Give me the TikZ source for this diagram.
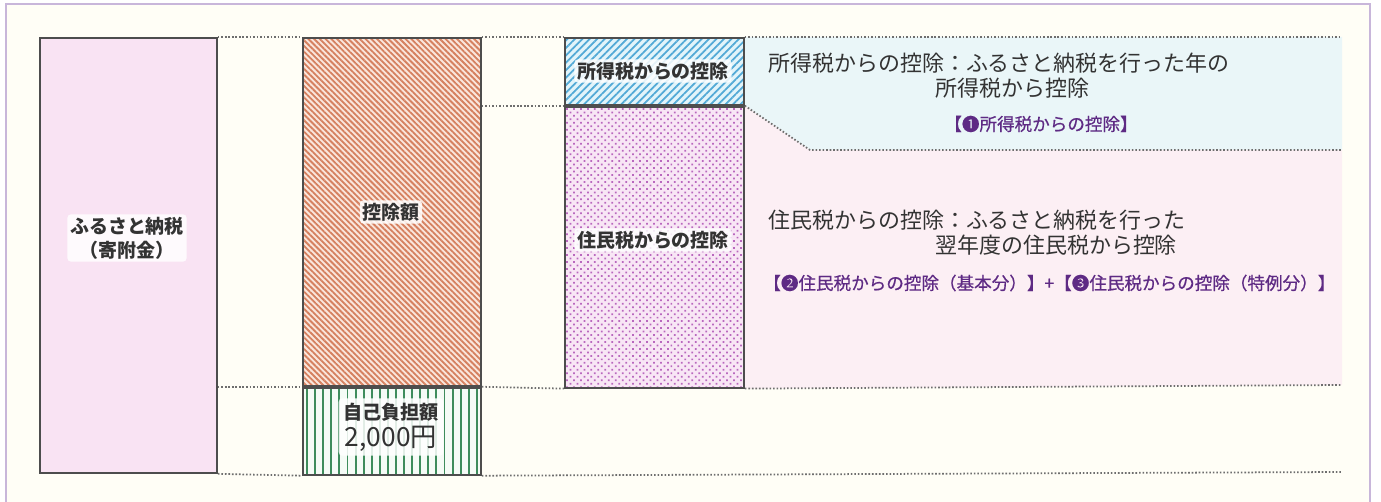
\documentclass[tikz,border=0pt]{standalone}
\usepackage{fontspec}
\setmainfont{Noto Sans CJK JP}
\newfontfamily\reffont[FakeBold=0.6]{Noto Sans CJK JP}
\usepackage{tikz}
\usetikzlibrary{patterns.meta,backgrounds}

\definecolor{paper}{HTML}{FFFEF6}
\definecolor{framelav}{HTML}{C8B6DA}
\definecolor{boxline}{HTML}{4D4D4D}
\definecolor{guidegray}{HTML}{6E6E6E}
\definecolor{textgray}{HTML}{333333}
\definecolor{refpurple}{HTML}{5E2A84}
\definecolor{furusatobg}{HTML}{F9E3F3}
\definecolor{kojobg}{HTML}{FAE6DC}
\definecolor{kojoline}{HTML}{D5805F}
\definecolor{jikobg}{HTML}{F5FBF6}
\definecolor{jikoline}{HTML}{3E8C5C}
\definecolor{shotokubg}{HTML}{E2F4FA}
\definecolor{shotokuline}{HTML}{52A9D6}
\definecolor{juuminbg}{HTML}{F8E6F5}
\definecolor{juumindot}{HTML}{B968BE}
\definecolor{infoblue}{HTML}{EAF6F8}
\definecolor{infopink}{HTML}{FCEFF4}

\tikzset{
  box/.style={draw=boxline, line width=1.1pt, inner sep=0pt, anchor=north west},
  guide/.style={guidegray, line width=1pt, dash pattern=on 0.9pt off 1.1pt},
  halo/.style={fill=white, fill opacity=0.85, text opacity=1, rounded corners=2pt, inner sep=1.5pt},
  lbl/.style={halo, text=textgray, font=\fontsize{10.8pt}{13.6pt}\selectfont\bfseries, align=center},
  note/.style={text=textgray, font=\fontsize{12.5pt}{15pt}\selectfont, inner sep=0pt, anchor=west},
  ref/.style={text=refpurple, font=\fontsize{10pt}{12pt}\reffont, inner sep=0pt}
}

\begin{document}
\begin{tikzpicture}[x=0.02cm,y=0.02cm]
\useasboundingbox (0,0) rectangle (1381,-502);
% columns
\node[box, fill=furusatobg, minimum width=3.54cm, minimum height=8.7cm] (furusato) at (39,-37) {};
\node[box, preaction={fill=kojobg}, pattern={Lines[angle=-45,distance=2.3pt,line width=1.05pt]}, pattern color=kojoline,
  minimum width=3.56cm, minimum height=6.96cm] (kojo) at (302,-37) {};
\node[box, preaction={fill=jikobg}, pattern={Lines[angle=90,distance=4.6pt,line width=1.1pt]}, pattern color=jikoline,
  minimum width=3.56cm, minimum height=1.74cm] (jiko) at (kojo.south west) {};
\node[box, preaction={fill=shotokubg}, pattern={Lines[angle=45,distance=3pt,line width=1pt]}, pattern color=shotokuline,
  minimum width=3.58cm, minimum height=1.34cm] (shotoku) at (564,-37) {};
\node[box, preaction={fill=juuminbg}, pattern={Dots[angle=45,distance=2.8pt,radius=0.7pt]}, pattern color=juumindot,
  minimum width=3.58cm, minimum height=5.62cm] (juumin) at (shotoku.south west) {};

% right edge points
\coordinate (topR) at (1342,-37);
\coordinate (bend) at (810,-150);
\coordinate (midR) at (1342,-150);
\coordinate (lowR) at (1342,-385);
\coordinate (baseR) at (1342,-472);

\begin{scope}[on background layer]
\fill[white] (0,0) rectangle (1381,-502);
\fill[paper] (6,-4) rectangle (1370,-502);
\draw[framelav, line width=1.2pt] (6,-502) -- (6,-4) -- (1370,-4) -- (1370,-502);
\fill[infoblue] (shotoku.north east) -- (topR) -- (midR) -- (bend) -- (juumin.north east) -- cycle;
\fill[infopink] (juumin.north east) -- (bend) -- (midR) -- (lowR) -- (juumin.south east) -- cycle;
\end{scope}

% dotted guides
\draw[guide] (furusato.north east) -- (kojo.north west);
\draw[guide] (kojo.north east) -- (shotoku.north west);
\draw[guide] (shotoku.north east) -- (topR);
\draw[guide] (kojo.north east |- shotoku.south west) -- (shotoku.south west);
\draw[guide] (juumin.north east) -- (bend) -- (midR);
\draw[guide] (furusato.east |- jiko.north west) -- (jiko.north west);
\draw[guide] (kojo.south east) -- (juumin.south west);
\draw[guide] (juumin.south east) -- (lowR);
\draw[guide] (furusato.south east) -- (jiko.south west);
\draw[guide] (jiko.south east) -- (baseR);

% labels in the columns
\node[lbl] (furusatoText) at (127,-238) {ふるさと納税\\（寄附金）};
\node[lbl] (kojoText) at (391,-212) {控除額};
\node[lbl, font=\fontsize{10.9pt}{15.5pt}\selectfont\bfseries, inner sep=2.5pt] (jikoText) at (391,-427)
  {自己負担額\\{\fontsize{15pt}{15.5pt}\selectfont\mdseries 2,000円}};
\node[lbl] (shotokuText) at (653,-71) {所得税からの控除};
\node[lbl] (juuminText) at (653,-240) {住民税からの控除};

% notes
\node[note] (shotokuNote) at (768,-63) {所得税からの控除：ふるさと納税を行った年の};
\node[note] (shotokuNoteB) at (935,-88) {所得税から控除};
\node[ref] (shotokuRef) at (1041,-124) {【❶所得税からの控除】};
\node[note] (juuminNote) at (768,-220) {住民税からの控除：ふるさと納税を行った};
\node[note] (juuminNoteB) at (935,-245) {翌年度の住民税から控除};
\node[ref, anchor=west] (juuminRef) at (763,-283) {【❷住民税からの控除（基本分）】+【❸住民税からの控除（特例分）】};
\end{tikzpicture}
\end{document}
